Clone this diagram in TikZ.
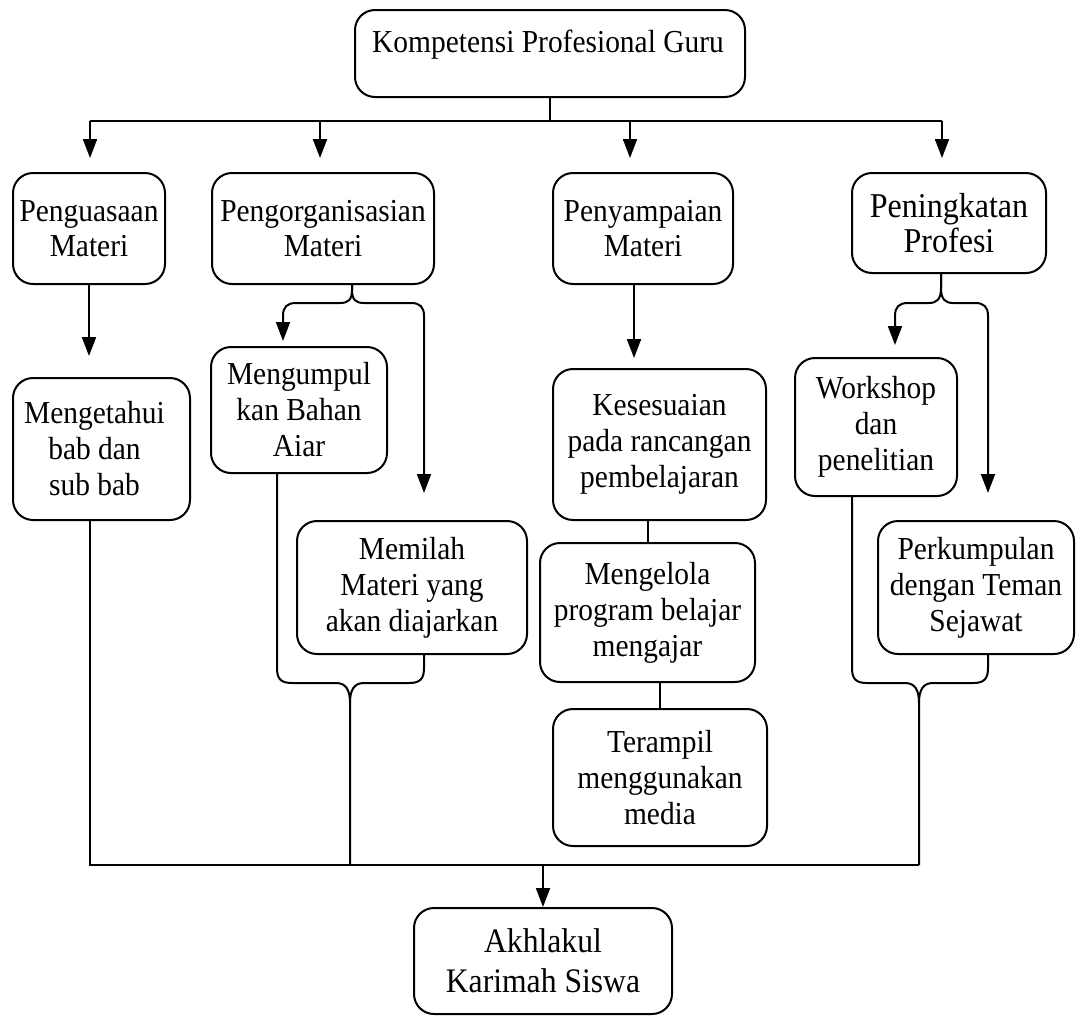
\documentclass[tikz,border=0pt]{standalone}
\usepackage{fontspec}
\setmainfont{Liberation Serif}[FakeStretch=0.92]
\usetikzlibrary{arrows.meta}

\begin{document}
\begin{tikzpicture}[x=0.5pt,y=-0.5pt,
  box/.style={draw, line width=1pt, rounded corners=10pt, inner sep=0pt, align=center,
              font=\fontsize{16}{18}\selectfont},
  rowtext/.style={font=\fontsize{16}{17.5}\selectfont},
  bigtext/.style={font=\fontsize{17.4}{17.8}\selectfont},
  lowtext/.style={font=\fontsize{17.2}{20}\selectfont},
  link/.style={line width=1pt},
  arr/.style={line width=1pt, -{Triangle[length=9.5pt,width=7pt]}},
]
\useasboundingbox (0,0) rectangle (1077,1018);

% ---- boxes ----
\node[box, minimum width=195pt, minimum height=43.5pt] (top) at (550,53.5) {};
\node[font=\fontsize{16}{18}\selectfont, inner sep=0pt] (toptxt) at (548,45) {Kompetensi Profesional Guru};

\node[box, rowtext, minimum width=76pt,  minimum height=55.5pt] (pmat)  at (89,228.5)  {Penguasaan\\Materi};
\node[box, rowtext, minimum width=111pt, minimum height=55.5pt] (porg)  at (323,228.5) {Pengorganisasian\\Materi};
\node[box, rowtext, minimum width=90pt,  minimum height=55.5pt] (pyam)  at (643,228.5) {Penyampaian\\Materi};
\node[box, bigtext, minimum width=97pt, minimum height=50pt] (pprof) at (949,223) {Peningkatan\\Profesi};

\node[box, minimum width=88.5pt, minimum height=71pt]   (mget) at (101.5,449) {\hspace*{-7pt}Mengetahui\\\hspace*{-7pt}bab dan\\\hspace*{-7pt}sub bab};
\node[box, minimum width=88pt,   minimum height=63pt]   (mkum) at (299,410)   {Mengumpul\\kan Bahan\\Aiar};
\node[box, minimum width=115pt,  minimum height=66.5pt] (mpil) at (412,587.5) {Memilah\\Materi yang\\akan diajarkan};
\node[box, minimum width=106.5pt,minimum height=75.5pt] (kes)  at (659.5,444.5) {Kesesuaian\\pada rancangan\\pembelajaran};
\node[box, minimum width=107.5pt,minimum height=69.5pt] (mkel) at (647.5,612.5) {Mengelola\\program belajar\\mengajar};
\node[box, minimum width=107pt,  minimum height=68.5pt] (ter)  at (660,777.5) {Terampil\\menggunakan\\media};
\node[box, minimum width=81pt,   minimum height=69pt]   (work) at (876,427)   {Workshop\\dan\\penelitian};
\node[box, minimum width=98pt,   minimum height=66.5pt] (perk) at (976,587.5) {Perkumpulan\\dengan Teman\\Sejawat};
\node[box, lowtext, minimum width=129pt, minimum height=53pt] (akh) at (543,961) {Akhlakul\\Karimah Siswa};

% ---- junction and arrow-tip coordinates ----
\coordinate (t1) at (90,121);
\coordinate (t2) at (320,121);
\coordinate (t3) at (630,121);
\coordinate (t4) at (942,121);
\coordinate (a1) at (90,158);
\coordinate (a2) at (320,158);
\coordinate (a3) at (630,158);
\coordinate (a4) at (942,158);
\coordinate (ma) at (89,356);
\coordinate (oc) at (352,0);
\coordinate (oL) at (283,341);
\coordinate (oR) at (424,493);
\coordinate (pa) at (634,358);
\coordinate (pc) at (941,0);
\coordinate (pL) at (895,345);
\coordinate (pR) at (988,493);
\coordinate (lbL) at (277,0);
\coordinate (lbR) at (424,0);
\coordinate (rbL) at (852,0);
\coordinate (rbR) at (988,0);
\coordinate (jL) at (90,865);
\coordinate (jM) at (350,865);
\coordinate (jR) at (919,865);

% ---- top distribution ----
\draw[link] (top.south) -- (top.south |- t1);
\draw[link] (t1) -- (t4);
\draw[arr] (t1) -- (a1);
\draw[arr] (t2) -- (a2);
\draw[arr] (t3) -- (a3);
\draw[arr] (t4) -- (a4);

% ---- second level ----
\draw[arr] (pmat.south) -- (ma);
\draw[arr] (pyam.south -| pa) -- (pa);

\draw[arr] (porg.south -| oc) -- (352,290) .. controls (352,300) and (348,303) .. (340,303)
  -- (296,303) .. controls (287,303) and (283,307) .. (283,316) -- (oL);
\draw[arr] (porg.south -| oc) -- (352,290) .. controls (352,300) and (356,303) .. (364,303)
  -- (411,303) .. controls (420,303) and (424,307) .. (424,316) -- (oR);

\draw[arr] (pprof.south -| pc) -- (941,288) .. controls (941,299) and (937,303) .. (929,303)
  -- (908,303) .. controls (899,303) and (895,307) .. (895,316) -- (pL);
\draw[arr] (pprof.south -| pc) -- (941,288) .. controls (941,299) and (945,303) .. (953,303)
  -- (975,303) .. controls (984,303) and (988,307) .. (988,316) -- (pR);

% ---- chain in the third column ----
\draw[link] (kes.south -| mkel.north) -- (mkel.north);
\draw[link] (mkel.south -| ter.north) -- (ter.north);

% ---- merging braces ----
\draw[link] (mkum.south -| lbL) -- (277,668) .. controls (277,679) and (281,683) .. (292,683)
  -- (336,683) .. controls (346,683) and (350,690) .. (350,703) -- (jM);
\draw[link] (mpil.south -| lbR) -- (424,668) .. controls (424,679) and (420,683) .. (409,683)
  -- (364,683) .. controls (354,683) and (350,690) .. (350,703);

\draw[link] (work.south -| rbL) -- (852,668) .. controls (852,679) and (856,683) .. (867,683)
  -- (905,683) .. controls (915,683) and (919,690) .. (919,703) -- (jR);
\draw[link] (perk.south -| rbR) -- (988,668) .. controls (988,679) and (984,683) .. (973,683)
  -- (933,683) .. controls (923,683) and (919,690) .. (919,703);

% ---- bottom collector ----
\draw[link] (mget.south -| jL) -- (jL) -- (jR);
\draw[arr] (akh.north |- jL) -- (akh.north);

\end{tikzpicture}
\end{document}
